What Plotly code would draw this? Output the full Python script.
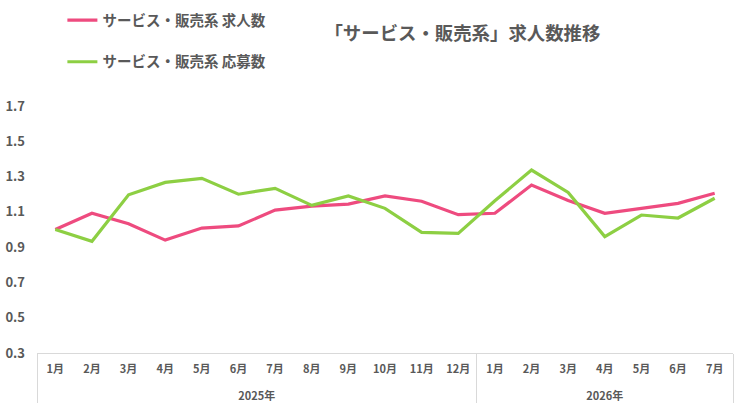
import plotly.graph_objects as go

years = ["<br>2025年"] * 12 + ["<br>2026年"] * 7
months = ["1月", "2月", "3月", "4月", "5月", "6月", "7月", "8月", "9月", "10月", "11月", "12月",
          "1月", "2月", "3月", "4月", "5月", "6月", "7月"]

kyujin = [1.00, 1.092, 1.033, 0.94, 1.008, 1.02, 1.11, 1.133, 1.144, 1.19, 1.16, 1.084,
          1.092, 1.252, 1.165, 1.092, 1.12, 1.148, 1.205]
oubo = [1.00, 0.933, 1.197, 1.267, 1.29, 1.20, 1.233, 1.137, 1.19, 1.12, 0.984, 0.978,
        1.163, 1.337, 1.21, 0.96, 1.082, 1.065, 1.177]

name1 = "サービス・販売系 求人数"
name2 = "サービス・販売系 応募数"
title = "「サービス・販売系」求人数推移"

font = "Noto Sans CJK JP"
gray = "#595959"

fig = go.Figure()
fig.add_trace(go.Scatter(x=[years, months], y=kyujin, mode="lines", name=name1,
                         line=dict(color="#EE4B7F", width=3.2), legend="legend"))
fig.add_trace(go.Scatter(x=[years, months], y=oubo, mode="lines", name=name2,
                         line=dict(color="#8DCF43", width=3.2), legend="legend2"))

leg = dict(font=dict(family=font, size=14.5, color=gray, weight="bold"),
           bgcolor="rgba(0,0,0,0)", xanchor="left", yanchor="middle",
           itemwidth=30, xref="container", yref="container")

fig.update_layout(
    width=734, height=404,
    margin=dict(l=37, r=1, t=106, b=51, autoexpand=False),
    paper_bgcolor="white", plot_bgcolor="white",
    font=dict(family=font, color=gray),
    title=dict(text=title, x=0.63, xanchor="center", y=0.918, yanchor="middle",
               font=dict(family=font, size=18.4, color=gray, weight="bold")),
    legend=dict(leg, x=0.085, y=0.95),
    legend2=dict(leg, x=0.085, y=0.847),
    showlegend=True,
)

fig.update_xaxes(
    type="multicategory", range=[-0.5, 18.5], automargin=False,
    showgrid=False, zeroline=False,
    showline=True, linecolor="#D9D9D9", linewidth=1,
    showdividers=True, dividercolor="#D9D9D9", dividerwidth=1,
    tickfont=dict(family=font, size=11, color=gray, weight="bold"),
    ticks="", ticklabelstandoff=6,
)
fig.update_yaxes(
    range=[0.3, 1.7], tickvals=[0.3, 0.5, 0.7, 0.9, 1.1, 1.3, 1.5, 1.7],
    ticktext=["0.3", "0.5", "0.7", "0.9", "1.1", "1.3", "1.5", "1.7"],
    showgrid=False, zeroline=False, showline=False, automargin=False,
    tickfont=dict(family=font, size=13, color=gray, weight="bold"),
    ticklabelstandoff=11,
)

# the page has a default 8px body margin; drop it so the figure sits at 0,0
fig.write_html("out.html", config={"displayModeBar": False},
               post_script="document.body.style.margin='0px';")
